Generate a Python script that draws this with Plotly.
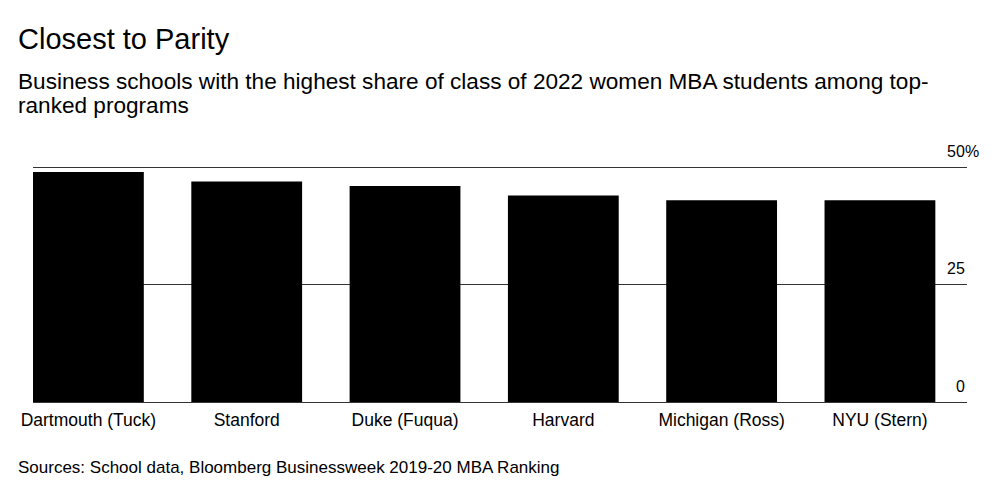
import plotly.graph_objects as go

schools = ["Dartmouth (Tuck)", "Stanford", "Duke (Fuqua)", "Harvard", "Michigan (Ross)", "NYU (Stern)"]
women_share = [49, 47, 46, 44, 43, 43]
y_ticks = [0, 25, 50]
y_tick_labels = ["0", "25", "50"]

title = "Closest to Parity"
subtitle_lines = ["Business schools with the highest share of class of 2022 women MBA students among top-",
                  "ranked programs"]
source = "Sources: School data, Bloomberg Businessweek 2019-20 MBA Ranking"

FONT = "Liberation Sans, Arial, sans-serif"

fig = go.Figure(go.Bar(
    x=schools, y=women_share,
    marker=dict(color="#000000", line=dict(width=0)),
    hoverinfo="x+y",
))

PT, PB = 165, 90
plot_h = 492 - PT - PB


def ypix(p):
    return (492 - PB - p) / plot_h


fig.update_layout(
    width=1000, height=492,
    margin=dict(l=33, r=33, t=PT, b=PB, pad=0),
    plot_bgcolor="white", paper_bgcolor="white",
    bargap=0.3,
    showlegend=False,
    font=dict(family=FONT, color="#000000"),
    xaxis=dict(
        range=[-0.35, 5.55], showgrid=False, zeroline=False, showline=False,
        ticks="outside", ticklen=2, tickcolor="rgba(0,0,0,0)",
        tickfont=dict(size=17.5, color="#000000"), fixedrange=True,
    ),
    yaxis=dict(
        range=[0, 50.5], tickvals=y_ticks, showticklabels=False,
        showgrid=True, gridcolor="#333333", gridwidth=1.2,
        zeroline=True, zerolinecolor="#333333", zerolinewidth=1.2,
        showline=False, fixedrange=True,
    ),
)

ann = []
ann.append(dict(text=title, xref="paper", yref="paper", x=0, xshift=-17, y=ypix(39),
                xanchor="left", yanchor="middle", showarrow=False,
                font=dict(size=29, color="#000000", family=FONT)))
for line, py in zip(subtitle_lines, [81, 106]):
    ann.append(dict(text=line, xref="paper", yref="paper", x=0, xshift=-17, y=ypix(py),
                    xanchor="left", yanchor="middle", showarrow=False, align="left",
                    font=dict(size=22.6, color="#000000", family=FONT)))
ann.append(dict(text=source, xref="paper", yref="paper", x=0, xshift=-17, y=ypix(467),
                xanchor="left", yanchor="middle", showarrow=False,
                font=dict(size=17, color="#000000", family=FONT)))
for v, lab in zip(y_ticks, y_tick_labels):
    ann.append(dict(text=lab, xref="paper", yref="y", x=1, y=v, yshift=16,
                    xanchor="right", yanchor="middle", showarrow=False,
                    font=dict(size=16, color="#000000", family=FONT)))
ann.append(dict(text="%", xref="paper", yref="y", x=1, y=50, yshift=16, xshift=-4,
                xanchor="left", yanchor="middle", showarrow=False,
                font=dict(size=16, color="#000000", family=FONT)))

fig.update_layout(annotations=ann)
fig.write_html("out.html")
